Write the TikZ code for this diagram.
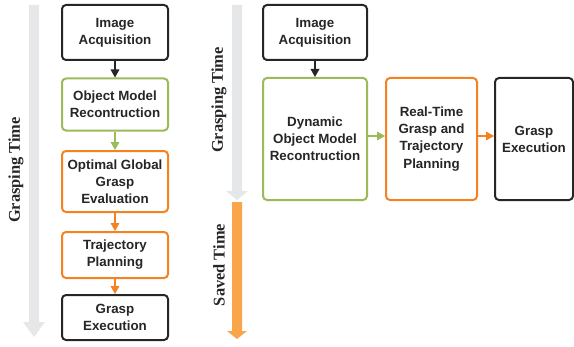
\documentclass[tikz,border=0pt]{standalone}
\usepackage{fontspec}
\setmainfont{Liberation Serif}
\setsansfont{Liberation Sans}
\usetikzlibrary{arrows.meta}
\definecolor{txt}{HTML}{262626}
\definecolor{grn}{HTML}{9BBB59}
\definecolor{org}{HTML}{F58220}
\definecolor{sav}{HTML}{F8A54C}
\definecolor{gry}{HTML}{E6E7E8}
\tikzset{
  box/.style={draw, line width=1.5pt, rounded corners=3pt, fill=white, text=txt,
    font=\sffamily\bfseries\fontsize{10}{12.8}\selectfont, align=center, inner sep=0pt},
  blk/.style={box, draw=txt},
  gbox/.style={box, draw=grn},
  obox/.style={box, draw=org},
  conn/.style={line width=0.9pt, -{Triangle[length=6pt,width=6.5pt]}},
  tlabel/.style={rotate=90, text=txt, font=\bfseries\fontsize{12.3}{14}\selectfont}
}
\begin{document}
\begin{tikzpicture}[x=0.75pt,y=-0.75pt]
\useasboundingbox (0,0) rectangle (574,346);
% time arrows
\fill[gry] (29,5) -- (39,5) -- (39,322) -- (45,322) -- (34,337) -- (23,322) -- (29,322) -- cycle;
\fill[gry] (232,5) -- (242,5) -- (242,191) -- (248,191) -- (237,200) -- (226,191) -- (232,191) -- cycle;
\fill[sav] (232,202) -- (242,202) -- (242,331) -- (247,331) -- (237,339) -- (227,331) -- (232,331) -- cycle;
\node[tlabel] (gtl) at (16,170) {Grasping Time};
\node[tlabel] (gtr) at (219,100) {Grasping Time};
\node[tlabel] (st) at (219,265) {Saved Time};
% left pipeline
\node[blk, minimum width=106*0.75pt, minimum height=55*0.75pt] (a1) at (115,32.5) {Image\\Acquisition};
\node[gbox, minimum width=106*0.75pt, minimum height=52*0.75pt] (a2) at (115,104.5) {Object Model\\Recontruction};
\node[obox, minimum width=106*0.75pt, minimum height=61*0.75pt] (a3) at (115,181.5) {Optimal Global\\Grasp\\Evaluation};
\node[obox, minimum width=106*0.75pt, minimum height=46*0.75pt] (a4) at (115,255) {Trajectory\\Planning};
\node[blk, minimum width=106*0.75pt, minimum height=45*0.75pt] (a5) at (115,317.5) {Grasp\\Execution};
\draw[conn, txt] (a1) -- (a2);
\draw[conn, grn] (a2) -- (a3);
\draw[conn, org] (a3) -- (a4);
\draw[conn, org] (a4) -- (a5);
% right pipeline
\node[blk, minimum width=104*0.75pt, minimum height=55*0.75pt] (b1) at (315,32.5) {Image\\Acquisition};
\node[gbox, minimum width=104*0.75pt, minimum height=122*0.75pt] (b2) at (315,139) {Dynamic\\Object Model\\Recontruction};
\node[obox, minimum width=91*0.75pt, minimum height=122*0.75pt] (b3) at (431.5,139) {Real-Time\\Grasp and\\Trajectory\\Planning};
\node[blk, minimum width=78*0.75pt, minimum height=122*0.75pt] (b4) at (534,139) {Grasp\\Execution};
\draw[conn, txt] (b1) -- (b2);
\draw[conn, grn] (b2.east |- 0,136) -- (b3.west |- 0,136);
\draw[conn, org] (b3.east |- 0,136) -- (b4.west |- 0,136);
\end{tikzpicture}
\end{document}
